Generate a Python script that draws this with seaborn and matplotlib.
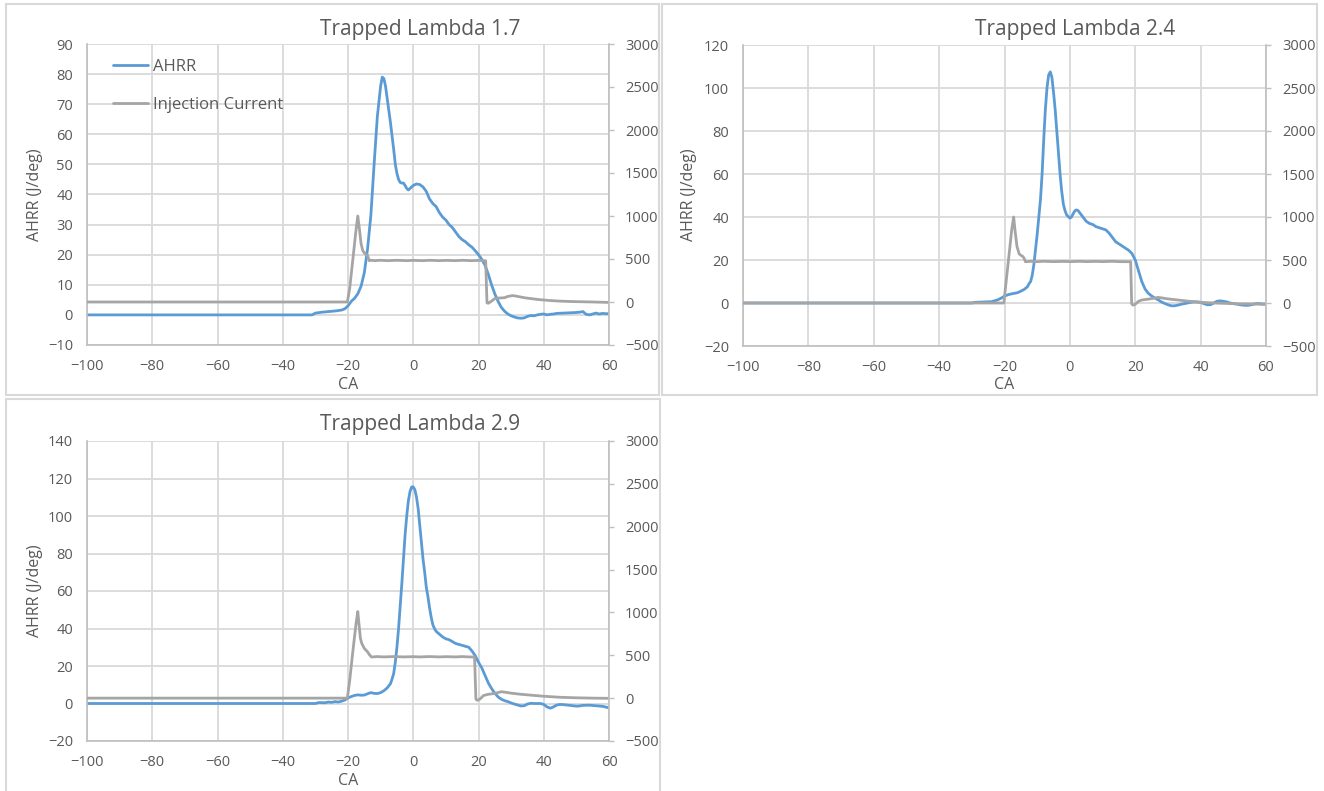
import matplotlib
matplotlib.use("Agg")
import matplotlib.pyplot as plt
import seaborn as sns
import pandas as pd
from matplotlib.patches import Rectangle
from matplotlib.lines import Line2D

# ---------------- data ----------------
titles = ["Trapped Lambda 1.7", "Trapped Lambda 2.4", "Trapped Lambda 2.9"]
x_ticks = [-100, -80, -60, -40, -20, 0, 20, 40, 60]
left_ticks_1 = [-10, 0, 10, 20, 30, 40, 50, 60, 70, 80, 90]
left_ticks_2 = [-20, 0, 20, 40, 60, 80, 100, 120]
left_ticks_3 = [-20, 0, 20, 40, 60, 80, 100, 120, 140]
right_ticks = [-500, 0, 500, 1000, 1500, 2000, 2500, 3000]

# Lambda 1.7
ca_ahrr_1 = [-100, -31, -30, -28, -26, -24, -22, -21, -20, -19, -18, -17, -16, -15, -14, -13, -12, -11, -10,
             -9.5, -9, -8.5, -8, -7, -6, -5.5, -5, -4.5, -4, -3.5, -3, -2.5, -2, -1.5, -1, 0, 1, 2, 3, 4, 5,
             6, 7, 8, 9, 10, 11, 12, 13, 14, 15, 16, 17, 18, 19, 20, 21, 22, 23, 24, 25, 26, 27, 28, 29, 30,
             31, 32, 33, 34, 35, 36, 37, 38, 39, 40, 41, 42, 43, 44, 46, 48, 50, 51, 52, 53, 54, 55, 56, 57,
             58, 59, 60]
ahrr_1 = [0, 0, 0.6, 0.9, 1.1, 1.3, 1.6, 2.0, 3.0, 4.5, 5.5, 7, 9.5, 14, 22, 33, 50, 66, 76,
          79, 78.5, 76, 72, 64, 55, 50, 47, 45, 44, 43.8, 43.8, 43, 42, 41.5, 42, 43, 43.5, 43.3, 42.5, 41, 38.5,
          37, 36, 34, 32.5, 31.5, 30, 29, 27.5, 26, 25, 24.3, 23.3, 22.5, 21.3, 20, 18.5, 16.5, 13.5, 10, 7, 4.5,
          2.5, 1.2, 0.3, -0.3, -0.7, -1, -1.1, -1, -0.5, -0.2, -0.3, 0, 0.2, 0.3, 0, 0.2, 0.3, 0.5, 0.6, 0.7, 0.8,
          0.9, 1.1, 0.2, 0, 0.3, 0.6, 0.3, 0.5, 0.4, 0.4]
ca_inj_1 = [-100, -20.2, -19.5, -18.5, -17.5, -17, -16.5, -16, -15.5, -15, -14.5, -14, -13.5, -13, -12, -10,
            -8, -5, -2, 0, 3, 5, 8, 10, 13, 15, 18, 20, 22.2, 22.6, 23, 24, 25, 26, 28, 29, 30.5, 32, 34, 36,
            38, 40, 42, 45, 48, 50, 55, 60]
inj_1 = [0, 0, 150, 500, 850, 1000, 850, 680, 600, 570, 555, 540, 480, 486, 481, 485,
         481, 485, 481, 484, 481, 485, 481, 484, 481, 485, 481, 484, 480, -10, -15, 10, 40, 45, 50, 65, 75, 65,
         50, 40, 30, 23, 17, 10, 6, 4, 0, -5]

# Lambda 2.4
ca_ahrr_2 = [-100, -30, -29, -26, -24, -22, -21, -20, -19, -18, -17, -16, -15, -14, -13, -12.5, -12, -11.5,
             -11, -10.5, -10, -9.5, -9, -8.5, -8, -7.5, -7, -6.5, -6, -5.5, -5, -4.5, -4, -3.5, -3, -2.5,
             -2, -1.5, -1, -0.5, 0, 0.5, 1, 1.5, 2, 2.5, 3, 3.5, 4, 5, 6, 7, 8, 9, 10, 11, 12, 13, 14, 15,
             16, 17, 18, 19, 20, 21, 22, 23, 24, 25, 26, 27, 28, 29, 30, 31, 32, 33, 34, 35, 36, 37, 38,
             39, 40, 41, 42, 43, 44, 45, 46, 47, 48, 49, 50, 51, 52, 53, 54, 55, 56, 57, 58, 59, 60]
ahrr_2 = [0, 0, 0.3, 0.5, 0.6, 1.5, 2.3, 3.2, 3.8, 4.2, 4.5, 4.8, 5.5, 6.3, 7.5, 9, 10, 13,
          18, 25, 32, 40, 48, 60, 76, 90, 100, 106, 107.5, 105, 98, 90, 80, 70, 60, 52,
          46, 43, 41, 40.2, 39.5, 40, 41.5, 42.8, 43.3, 43, 42, 41, 40, 38, 37, 36.5, 35.5, 35, 34.5, 34,
          32.5, 30.5, 28.5, 27.5, 26.5, 25.5, 24.5, 23, 20, 15, 10, 6.5, 4.5, 3.3, 2.3, 1.5, 0.5, -0.2,
          -0.8, -1.3, -1.3, -1, -0.6, -0.3, 0, 0.3, 0.5, 0.5, 0.3, -0.3, -0.8, -0.8, 0, 0.8, 1, 0.8, 0.5,
          0, -0.3, -0.5, -0.8, -1, -1.1, -1, -0.6, -0.3, -0.3, -0.5, -0.5]
ca_inj_2 = [-100, -20.2, -19.5, -18.5, -17.8, -17.2, -16.8, -16.2, -15.5, -15, -14.5, -14, -13.6, -12, -10,
            -8, -5, -2, 0, 3, 5, 8, 10, 13, 15, 18.6, 18.9, 19.3, 20, 21, 22, 24, 26, 27, 28, 30, 33, 36, 40,
            44, 48, 52, 56, 60]
inj_2 = [0, 0, 250, 600, 850, 1000, 850, 660, 570, 555, 545, 520, 480, 485, 481,
         485, 481, 484, 481, 485, 481, 484, 481, 485, 481, 480, -10, -25, -15, 20, 35, 45, 58, 65, 60, 48,
         35, 22, 8, 0, -5, -10, -12, -15]

# Lambda 2.9
ca_ahrr_3 = [-100, -30, -29, -27, -26, -25, -24, -23, -22, -21, -20, -19, -18, -17, -16, -15, -14, -13, -12,
             -11, -10, -9, -8, -7, -6.5, -6, -5.5, -5, -4.5, -4, -3.5, -3, -2.5, -2, -1.5, -1, -0.5, 0, 0.5,
             1, 1.5, 2, 2.5, 3, 3.5, 4, 4.5, 5, 5.5, 6, 6.5, 7, 8, 9, 10, 11, 12, 13, 14, 15, 16, 17, 18, 19,
             20, 21, 22, 23, 24, 25, 26, 27, 28, 29, 30, 31, 32, 33, 34, 35, 36, 37, 38, 39, 40, 41, 42, 43,
             44, 45, 46, 48, 50, 51, 52, 54, 56, 58, 60]
ahrr_3 = [0, 0, 0.5, 0.4, 0.8, 0.6, 1.0, 0.8, 1.2, 1.8, 3, 3.7, 4.3, 4.6, 4.4, 4.5, 5.2, 5.8, 5.4,
          5.3, 5.8, 6.8, 8.3, 10.5, 13, 16, 22, 30, 40, 52, 64, 77, 90, 100, 108, 113, 115.5, 115.5, 114,
          110, 104, 95, 86, 77, 70, 62, 57, 51, 46, 42, 40, 38.5, 37, 35.5, 34.5, 34, 33, 32, 31.5, 31, 30.5,
          30, 28, 25.5, 22, 19, 15, 11, 8, 5.5, 3.5, 2.3, 1.5, 1, 0.3, -0.3, -0.8, -1.3, -1.2, -0.3, 0.1, 0,
          0, 0, -0.5, -1.8, -2.5, -1.8, -0.8, -0.5, -0.6, -1, -1.4, -1.3, -1, -0.9, -1.2, -1.5, -2.3]
ca_inj_3 = [-100, -20.2, -19.5, -18.5, -17.5, -17, -16.6, -16.2, -15.8, -15, -14.5, -14, -13.5, -12.8, -11,
            -9, -6, -3, 0, 2, 5, 8, 10, 13, 15, 17, 18.8, 19.2, 19.6, 20.5, 21.5, 23, 25, 27, 28, 30, 33, 36,
            40, 45, 50, 55, 60]
inj_3 = [0, 0, 200, 550, 880, 1010, 850, 700, 640, 580, 560, 540, 510, 480, 485,
         481, 485, 481, 484, 481, 485, 481, 484, 481, 485, 481, 480, -10, -25, -10, 30, 45, 55, 75, 70, 58,
         45, 35, 22, 10, 4, 0, -2]

# ---------------- style ----------------
sns.set_style("white")
plt.rcParams['font.family'] = ['Open Sans', 'DejaVu Sans']
BLUE = "#5B9BD5"
GRAY = "#A5A5A5"
TXT = "#595959"
GRID = "#D9D9D9"
LW = 2.0

W, H = 1324, 791
fig = plt.figure(figsize=(W / 100, H / 100), dpi=100)
fig.patch.set_facecolor("white")


def ax_at(l, t, r, b):
    return fig.add_axes([l / W, 1 - b / H, (r - l) / W, (b - t) / H])


def ftext(x, y, s, **kw):
    fig.text(x / W, 1 - y / H, s, **kw)


# panel frames
for (x0, y0, x1, y1) in [(6, 4, 659, 395), (662, 4, 1317, 395), (6, 399, 660, 800)]:
    fig.patches.append(Rectangle((x0 / W, 1 - y1 / H), (x1 - x0) / W, (y1 - y0) / H,
                                 transform=fig.transFigure, fill=False, ec=GRID, lw=1.5))

panels = [
    dict(box=(87, 44, 609, 345), ca=ca_ahrr_1, a=ahrr_1, ci=ca_inj_1, i=inj_1, yt=left_ticks_1,
         title=titles[0], tpos=(420, 29), ylab=(35, 195), xlab=(348, 385), legend=True),
    dict(box=(743, 45, 1266, 346), ca=ca_ahrr_2, a=ahrr_2, ci=ca_inj_2, i=inj_2, yt=left_ticks_2,
         title=titles[1], tpos=(1075, 30), ylab=(689, 195), xlab=(1004, 385), legend=False),
    dict(box=(87, 441, 609, 741), ca=ca_ahrr_3, a=ahrr_3, ci=ca_inj_3, i=inj_3, yt=left_ticks_3,
         title=titles[2], tpos=(420, 425), ylab=(35, 591), xlab=(348, 781), legend=False),
]

for p in panels:
    ax = ax_at(*p["box"])
    ax2 = ax.twinx()
    sns.lineplot(x=p["ca"], y=p["a"], ax=ax, color=BLUE, lw=LW, estimator=None, sort=False)
    sns.lineplot(x=p["ci"], y=p["i"], ax=ax2, color=GRAY, lw=LW, estimator=None, sort=False)

    ax.set_xlim(-100, 60)
    ax.set_xticks(x_ticks)
    ax.set_ylim(p["yt"][0], p["yt"][-1])
    ax.set_yticks(p["yt"])
    ax2.set_ylim(-500, 3000)
    ax2.set_yticks(right_ticks)
    ax.grid(True, color=GRID, lw=1.3)
    ax.set_axisbelow(True)
    ax2.grid(False)
    ax.set_xlabel("")
    ax.set_ylabel("")
    ax2.set_ylabel("")

    for s in ["top", "right"]:
        ax.spines[s].set_visible(False)
    for s in ["top", "left", "bottom"]:
        ax2.spines[s].set_visible(False)
    ax.spines["left"].set_color("#BFBFBF")
    ax.spines["bottom"].set_color("#BFBFBF")
    ax.spines["left"].set_linewidth(1.2)
    ax.spines["bottom"].set_linewidth(1.2)
    ax2.spines["right"].set_color("#BFBFBF")
    ax2.spines["right"].set_linewidth(1.2)

    ax.tick_params(axis="both", length=0, labelcolor=TXT, labelsize=10.5)
    ax.tick_params(axis="y", pad=10)
    ax.tick_params(axis="x", pad=10)
    ax2.tick_params(axis="y", length=3.5, width=1, color="#BFBFBF", direction="out",
                    labelcolor=TXT, labelsize=10.5, pad=8)

    ftext(*p["tpos"], p["title"], ha="center", va="center", fontsize=15, color=TXT)
    ftext(*p["ylab"], "AHRR (J/deg)", ha="center", va="center", rotation=90, fontsize=11.5, color=TXT)
    ftext(*p["xlab"], "CA", ha="center", va="center", fontsize=11.5, color=TXT)

    if p["legend"]:
        handles = [Line2D([], [], color=BLUE, lw=LW), Line2D([], [], color=GRAY, lw=LW)]
        leg = ax.legend(handles, ["AHRR", "Injection Current"], loc="upper left",
                        bbox_to_anchor=((113 - 87) / 522, 1 - (59 - 44) / 301), frameon=False,
                        fontsize=12, handlelength=2.1, handletextpad=0.3, labelspacing=1.3,
                        borderaxespad=0, borderpad=0)
        for t in leg.get_texts():
            t.set_color(TXT)

fig.savefig("out.png", dpi=100, facecolor="white")
